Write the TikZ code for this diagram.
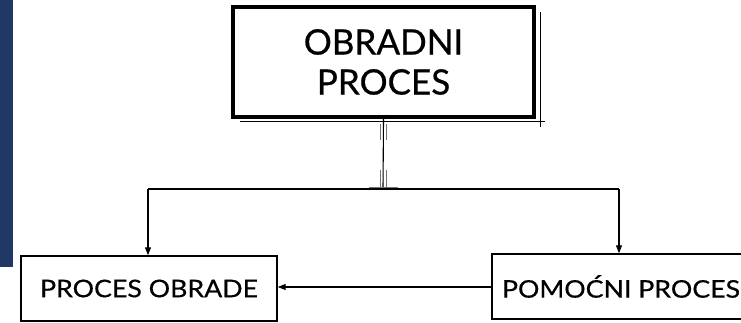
\documentclass[tikz,border=0pt]{standalone}
\usepackage{fontspec}
\setmainfont{Lato}
\newfontfamily\gilltop{Lato}[FakeBold=0.6]
\newfontfamily\gillwide{Lato}[FakeStretch=1.1, FakeBold=0.5]
\usetikzlibrary{arrows.meta}
\definecolor{barblue}{RGB}{31,56,100}
\tikzset{
  box/.style={draw=black, line width=1.4pt, inner sep=0pt, align=center},
  topbox/.style={draw=black, line width=3.6pt, inner sep=0pt, align=center},
  conn/.style={draw=black, line width=1.1pt},
  arr/.style={conn, -{Triangle[length=8pt,width=6pt]}},
  ghost/.style={draw=black!55, line width=0.7pt}
}
\begin{document}
\begin{tikzpicture}[x=1pt,y=-1pt]
\useasboundingbox (0,0) rectangle (741,323);
\fill[barblue] (0,0) rectangle (13,267);
\node[topbox, minimum width=301pt, minimum height=110pt, font=\gilltop\fontsize{35}{40}\selectfont] (top) at (383.5,62) {OBRADNI\\PROCES};
\node[box, minimum width=256pt, minimum height=65pt, font=\gillwide\fontsize{24.3}{28}\selectfont] (left) at (149,288.5) {PROCES OBRADE};
\node[box, minimum width=258pt, minimum height=65pt, font=\gillwide\fontsize{24.3}{28}\selectfont] (right) at (621,286.5) {POMOĆNI PROCES};
% sketch lines around top box
\coordinate (g1) at (540,12); \coordinate (g2) at (540,127);
\coordinate (g3) at (240,121); \coordinate (g4) at (545,121);
\draw[conn, line width=0.8pt] (g1) -- (g2);
\draw[conn, line width=0.8pt] (g3) -- (g4);
% connectors
\coordinate (j) at (383,189);
\coordinate (jl) at (148,189);
\coordinate (jr) at (619,189);
\draw[conn] (top.south) -- (j);
\draw[conn] (jl) -- (jr);
\draw[arr] (jl) -- (left.north -| jl);
\draw[arr] (jr) -- (right.north -| jr);
\draw[arr] (right.west |- 0,287) -- (left.east |- 0,287);
% gray double marks
\coordinate (m1) at (380,124); \coordinate (m2) at (380,140);
\coordinate (m3) at (386,124); \coordinate (m4) at (386,140);
\coordinate (m5) at (380,170); \coordinate (m6) at (380,187);
\coordinate (m7) at (386,170); \coordinate (m8) at (386,187);
\coordinate (m9) at (369,187); \coordinate (m10) at (398,187);
\draw[ghost] (m1) -- (m2); \draw[ghost] (m3) -- (m4);
\draw[ghost] (m5) -- (m6); \draw[ghost] (m7) -- (m8);
\draw[ghost] (m9) -- (m10);
\end{tikzpicture}
\end{document}
